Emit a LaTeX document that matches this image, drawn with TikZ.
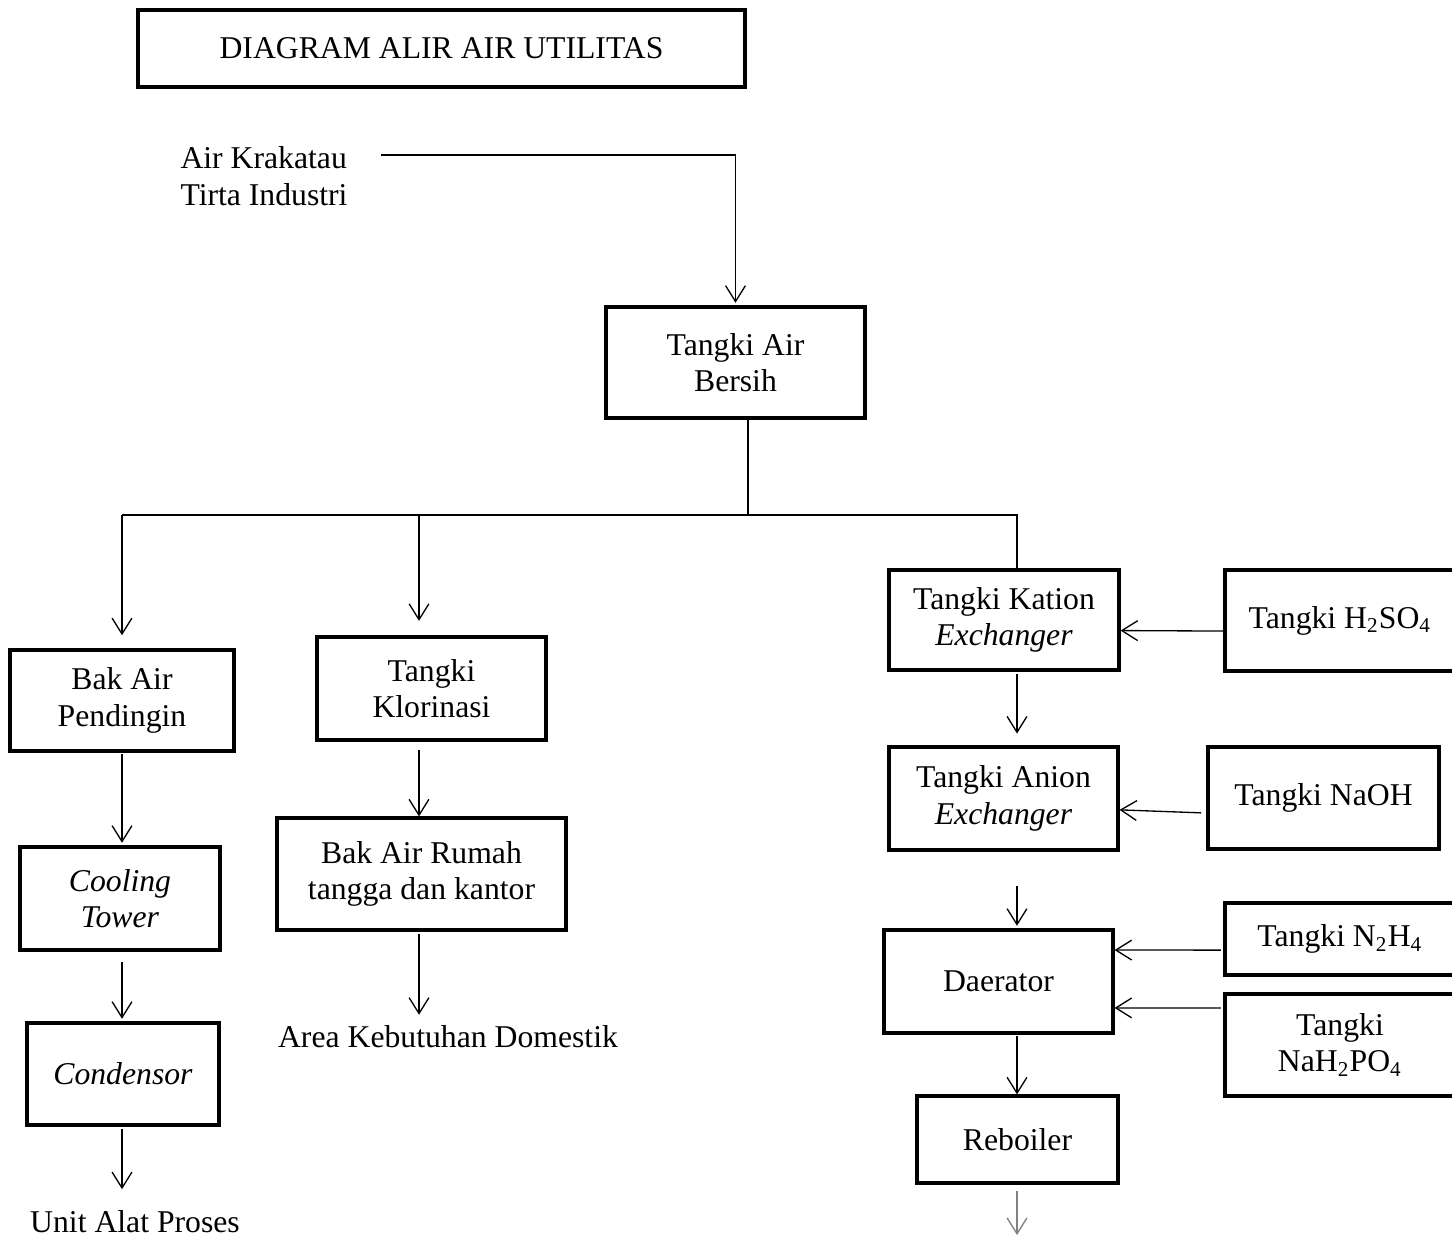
\documentclass[tikz,border=0pt]{standalone}
\usepackage{fontspec}
\setmainfont{Liberation Serif}
\usetikzlibrary{arrows.meta,positioning,calc}

\begin{document}
\begin{tikzpicture}[
  x=0.0133cm, y=-0.0133cm,
  font=\fontsize{12}{13.8}\selectfont,
  unit/.style 2 args={draw, line width=1.2pt, align=center, inner sep=2pt, minimum width=#1*0.0133cm, minimum height=#2*0.0133cm},
  ket/.style={align=left, inner sep=0pt},
  arr/.style={-{Straight Barb[length=6pt, width=7.5pt]}, line width=0.5pt},
  pipa/.style={line width=0.5pt},
]
\useasboundingbox (0,0) rectangle (1452,1240);
% judul
\node[unit={607}{77}] (judul) at (441.5,48.5) {DIAGRAM ALIR AIR UTILITAS};
% sumber air
\node[ket, anchor=west] (krakatau) at (180,176) {Air Krakatau\\Tirta Industri};
\node[unit={259}{111}] (bersih) at (735.5,362.5) {Tangki Air\\Bersih};
% jalur kiri
\node[unit={224}{101}] (pendingin) at (122,700.5) {Bak Air\\Pendingin};
\node[unit={200}{103}] (cooling) at (120,898.5) {\textit{Cooling}\\\textit{Tower}};
\node[unit={192}{102}] (condensor) at (123,1074) {\textit{Condensor}};
\node[ket] (proses) at (135,1222) {Unit Alat Proses};
% jalur tengah
\node[unit={229}{103}] (klorinasi) at (431.5,688.5) {Tangki\\Klorinasi};
\node[unit={289}{112}] (rumah) at (421.5,874) {Bak Air Rumah\\tangga dan kantor};
\node[ket] (domestik) at (448,1037) {Area Kebutuhan Domestik};
% jalur kanan
\node[unit={230}{100}] (kation) at (1004,620) {Tangki Kation\\\textit{Exchanger}};
\node[unit={229}{103}] (anion) at (1003.5,798.5) {Tangki Anion\\\textit{Exchanger}};
\node[unit={229}{103}] (daerator) at (998.5,981.5) {Daerator};
\node[unit={201}{87}] (reboiler) at (1017.5,1139.5) {Reboiler};
% bahan kimia
\node[unit={230}{101}] (h2so4) at (1340,620.5) {Tangki H\textsubscript{2}SO\textsubscript{4}};
\node[unit={231}{102}] (naoh) at (1323.5,798) {Tangki NaOH};
\node[unit={230}{72}] (n2h4) at (1340,939) {Tangki N\textsubscript{2}H\textsubscript{4}};
\node[unit={230}{102}] (nah2po4) at (1340,1045) {Tangki\\NaH\textsubscript{2}PO\textsubscript{4}};
% titik bantu
\coordinate (k0) at (381,155);
\coordinate (cabang) at (748,515);
\coordinate (kiri) at (122,0);
\coordinate (tengah) at (419,0);
\coordinate (kolom) at (1017,0);
\coordinate (uap) at (1017,1235);
% pipa utama
\draw[arr, shorten >=1pt] (k0) -| (bersih.north);
\draw[pipa] (bersih.south -| cabang) -- (cabang);
\draw[pipa] (kiri |- cabang) -- (kolom |- cabang) -- (kolom |- kation.north);
\draw[arr, shorten >=5pt] (kiri |- cabang) -- (kiri |- pendingin.north);
\draw[arr, shorten >=5.5pt] (tengah |- cabang) -- (tengah |- klorinasi.north);
% kiri
\draw[arr, shorten <=0.5pt, shorten >=1pt] (kiri |- pendingin.south) -- (kiri |- cooling.north);
\draw[arr, shorten <=3.8pt, shorten >=1pt] (kiri |- cooling.south) -- (kiri |- condensor.north);
\draw[arr, shorten <=1pt, shorten >=8pt] (kiri |- condensor.south) -- (kiri |- proses.north);
% tengah
\draw[arr, shorten <=3pt] (tengah |- klorinasi.south) -- (tengah |- rumah.north);
\draw[arr, shorten <=1pt, shorten >=4pt] (tengah |- rumah.south) -- (tengah |- domestik.north);
% kanan
\draw[arr, shorten <=1pt, shorten >=4.5pt] (kolom |- kation.south) -- (kolom |- anion.north);
\draw[arr, shorten <=13pt, shorten >=1pt] (kolom |- anion.south) -- (kolom |- daerator.north);
\draw[arr, shorten <=0.5pt] (kolom |- daerator.south) -- (kolom |- reboiler.north);
\draw[arr, black!50, shorten <=2.6pt] (kolom |- reboiler.south) -- (uap);
% bahan kimia masuk
\draw[arr] ([yshift=-4pt]h2so4.west) -- ([yshift=-4pt]kation.east);
\draw[arr, shorten <=2pt] ([yshift=-5.7pt]naoh.west) -- ([yshift=-4.3pt]anion.east);
\draw[arr, shorten <=1pt] ([yshift=-4.2pt]n2h4.west) -- ([yshift=11.9pt]daerator.east);
\draw[arr, shorten <=1pt] ([yshift=14pt]nah2po4.west) -- ([yshift=-10pt]daerator.east);
\end{tikzpicture}
\end{document}
